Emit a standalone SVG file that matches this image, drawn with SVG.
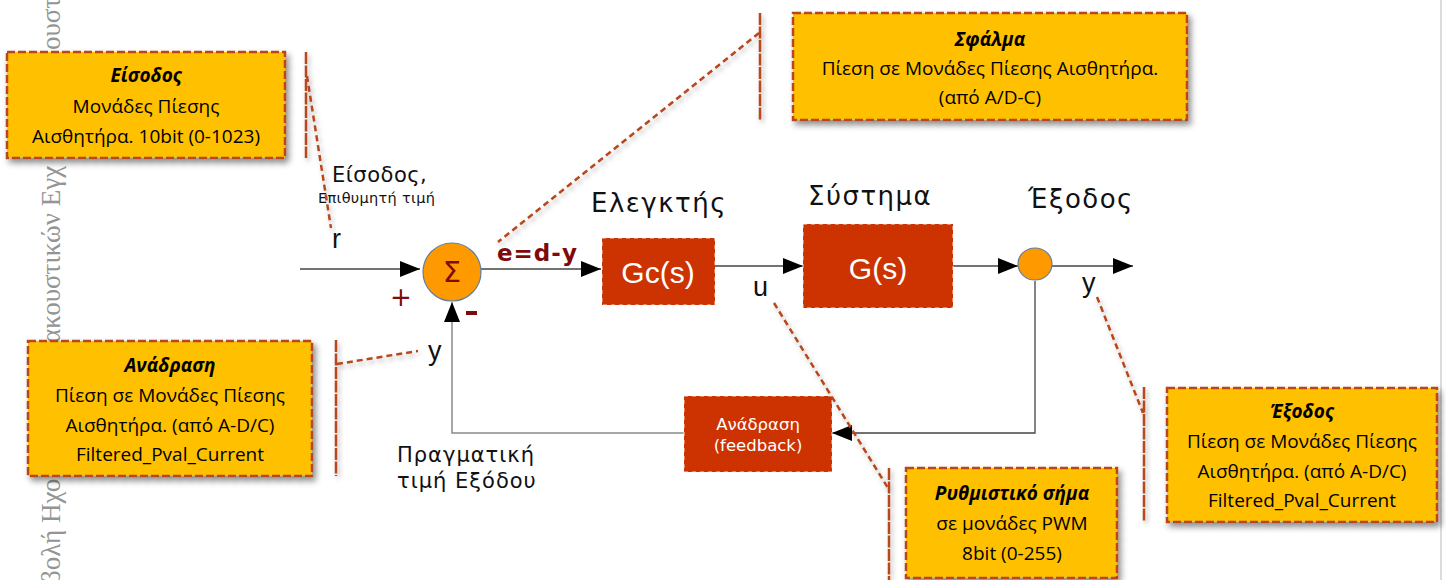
<svg xmlns="http://www.w3.org/2000/svg" width="1446" height="580" viewBox="0 0 1446 580">
  <defs>
    <filter id="shadow" x="-10%" y="-10%" width="130%" height="140%">
      <feDropShadow dx="3" dy="4" stdDeviation="3" flood-color="#000" flood-opacity="0.45"/>
    </filter>
    <filter id="lineShadow" x="-20%" y="-20%" width="140%" height="140%">
      <feDropShadow dx="2" dy="3" stdDeviation="2.5" flood-color="#000" flood-opacity="0.3"/>
    </filter>
    <marker id="arrow" viewBox="0 0 20 16" refX="20" refY="8" markerWidth="20" markerHeight="16" markerUnits="userSpaceOnUse" orient="auto">
      <path d="M0,0 L20,8 L0,16 Z" fill="#000"/>
    </marker>
    <style>
      .wm { font-family: "Liberation Serif", serif; font-size: 27px; fill: #949494; }
      .note rect { fill: #ffc000; stroke: #b8461b; stroke-width: 2.5; stroke-dasharray: 8 3; }
      .note text { font-family: "Open Sans", "Noto Sans", sans-serif; font-size: 19px; fill: #000; text-anchor: middle; }
      .note .title { font-weight: bold; font-style: italic; }
      .bracket { stroke: #b8461b; stroke-width: 2.5; fill: none; stroke-dasharray: 12 1.5; }
      .lead { stroke: #b8461b; stroke-width: 2.5; fill: none; stroke-dasharray: 6 4; }
      .wire { stroke: #444; stroke-width: 1.3; fill: none; }
      .wire-fb { stroke: #8a8a8a; stroke-width: 1.5; fill: none; }
      .block { fill: #cc3300; stroke: #fff; stroke-width: 0.8; stroke-dasharray: 4 4; }
      .block-text { font-family: "Liberation Sans", sans-serif; font-size: 30px; fill: #fff; text-anchor: middle; }
      .head { font-family: "DejaVu Sans", sans-serif; font-size: 26px; fill: #111; letter-spacing: 1.5px; }
      .sig { font-family: "Liberation Sans", sans-serif; font-size: 27px; fill: #111; }
      .lbl { font-family: "DejaVu Sans", sans-serif; font-size: 21px; fill: #111; letter-spacing: 1px; }
      .lbl-in { font-family: "DejaVu Sans", sans-serif; font-size: 21px; fill: #111; letter-spacing: 0.5px; }
      .lbl-sub { font-family: "DejaVu Sans", sans-serif; font-size: 14.5px; fill: #111; letter-spacing: 0.3px; }
      .red { fill: #7f0a0a; }
    </style>
  </defs>

  <!-- faint vertical watermark along the left edge -->
  <g id="watermark">
    <text class="wm" transform="translate(60,584) rotate(-90)">βολή Ηχο</text>
    <text class="wm" transform="translate(60,343) rotate(-90)">ακουστικών Εγχ</text>
    <text class="wm" transform="translate(60,50) rotate(-90)">ουστικ</text>
  </g>

  <!-- page edge -->
  <line x1="1441" y1="0" x2="1441" y2="580" stroke="#d0d0d0" stroke-width="1.5"/>

  <!-- signal connectors -->
  <g id="connectors">
    <line class="wire" x1="300" y1="269" x2="420" y2="269" marker-end="url(#arrow)"/>
    <line class="wire" x1="481" y1="269" x2="601" y2="269" marker-end="url(#arrow)"/>
    <line class="wire" x1="715" y1="266" x2="803" y2="266" marker-end="url(#arrow)"/>
    <line class="wire" x1="953" y1="266" x2="1018" y2="266" marker-end="url(#arrow)"/>
    <line class="wire" x1="1052" y1="266" x2="1133" y2="266" marker-end="url(#arrow)"/>
    <polyline class="wire" points="1035,281 1035,433 832,433" marker-end="url(#arrow)"/>
    <polyline class="wire-fb" points="684,433 452,433 452,302" marker-end="url(#arrow)"/>
  </g>

  <!-- summing junction -->
  <g id="sum">
    <circle cx="452" cy="272" r="29" fill="#ff9900" stroke="#5f7fa0" stroke-width="1.2"/>
    <text x="452" y="282" text-anchor="middle" font-family="DejaVu Sans, sans-serif" font-size="29" class="red">Σ</text>
    <text x="401" y="306" text-anchor="middle" font-family="DejaVu Sans, sans-serif" font-size="26" class="red">+</text>
    <rect x="466" y="311" width="11" height="4" class="red"/>
  </g>

  <!-- controller -->
  <g id="controller">
    <rect class="block" x="602" y="238" width="113" height="67"/>
    <text class="block-text" x="658" y="283">Gc(s)</text>
    <text class="head" x="591" y="212">Ελεγκτής</text>
  </g>

  <!-- plant -->
  <g id="plant">
    <rect class="block" x="803" y="224" width="150" height="84"/>
    <text class="block-text" x="878" y="279">G(s)</text>
    <text class="head" x="808" y="205">Σύστημα</text>
  </g>

  <!-- output pick-off -->
  <g id="output">
    <ellipse cx="1035" cy="264" rx="17" ry="16" fill="#ff9900" stroke="#5f7fa0" stroke-width="1.2"/>
    <text class="head" x="1028" y="208">Έξοδος</text>
  </g>

  <!-- feedback block -->
  <g id="feedback">
    <rect class="block" x="684" y="396" width="148" height="76"/>
    <text x="758" y="430" text-anchor="middle" font-family="DejaVu Sans, sans-serif" font-size="16.5" fill="#fff">Ανάδραση</text>
    <text x="758" y="451" text-anchor="middle" font-family="DejaVu Sans, sans-serif" font-size="16.5" fill="#fff">(feedback)</text>
  </g>

  <!-- signal labels -->
  <g id="labels">
    <text class="lbl-in" x="332" y="182">Είσοδος,</text>
    <text class="lbl-sub" x="318" y="203">Επιθυμητή τιμή</text>
    <text class="sig" x="332" y="248">r</text>
    <text x="497" y="261" font-family="DejaVu Sans, sans-serif" font-weight="bold" font-size="23" letter-spacing="1" class="red">e=d-y</text>
    <text class="sig" x="753" y="296">u</text>
    <text class="sig" x="1082" y="292">y</text>
    <text class="sig" x="428" y="360">y</text>
    <text class="lbl" x="397" y="462">Πραγματική</text>
    <text class="lbl" x="397" y="488">τιμή Εξόδου</text>
  </g>

  <!-- note: input -->
  <g id="note-input" class="note">
    <rect x="7" y="52" width="278" height="106" filter="url(#shadow)"/>
    <text class="title" x="146" y="82">Είσοδος</text>
    <text x="146" y="113">Μονάδες Πίεσης</text>
    <text x="146" y="143">Αισθητήρα. 10bit (0-1023)</text>
    <g filter="url(#lineShadow)">
      <line class="bracket" x1="306" y1="52" x2="306" y2="158"/>
      <line class="lead" x1="307" y1="76" x2="331" y2="228"/>
    </g>
  </g>

  <!-- note: error -->
  <g id="note-error" class="note">
    <rect x="793" y="13" width="394" height="107" filter="url(#shadow)"/>
    <text class="title" x="990" y="46">Σφάλμα</text>
    <text x="990" y="75">Πίεση σε Μονάδες Πίεσης Αισθητήρα.</text>
    <text x="990" y="104">(από A/D-C)</text>
    <g filter="url(#lineShadow)">
      <line class="bracket" x1="760" y1="13" x2="760" y2="120"/>
      <line class="lead" x1="759" y1="33" x2="498" y2="242"/>
    </g>
  </g>

  <!-- note: feedback -->
  <g id="note-feedback" class="note">
    <rect x="28" y="341" width="284" height="135" filter="url(#shadow)"/>
    <text class="title" x="170" y="372">Ανάδραση</text>
    <text x="170" y="402">Πίεση σε Μονάδες Πίεσης</text>
    <text x="170" y="432">Αισθητήρα. (από A-D/C)</text>
    <text x="170" y="461">Filtered_Pval_Current</text>
    <g filter="url(#lineShadow)">
      <line class="bracket" x1="336" y1="340" x2="336" y2="476"/>
      <line class="lead" x1="337" y1="364" x2="418" y2="351"/>
    </g>
  </g>

  <!-- note: control signal -->
  <g id="note-control" class="note">
    <rect x="906" y="468" width="211" height="110" filter="url(#shadow)"/>
    <text class="title" x="1012" y="500">Ρυθμιστικό σήμα</text>
    <text x="1012" y="530">σε μονάδες PWM</text>
    <text x="1012" y="560">8bit (0-255)</text>
    <g filter="url(#lineShadow)">
      <line class="bracket" x1="889" y1="468" x2="889" y2="582"/>
      <line class="lead" x1="774" y1="303" x2="888" y2="488"/>
    </g>
  </g>

  <!-- note: output -->
  <g id="note-output" class="note">
    <rect x="1167" y="388" width="270" height="134" filter="url(#shadow)"/>
    <text class="title" x="1302" y="418">Έξοδος</text>
    <text x="1302" y="448">Πίεση σε Μονάδες Πίεσης</text>
    <text x="1302" y="478">Αισθητήρα. (από A-D/C)</text>
    <text x="1302" y="507">Filtered_Pval_Current</text>
    <g filter="url(#lineShadow)">
      <line class="bracket" x1="1144" y1="387" x2="1144" y2="522"/>
      <line class="lead" x1="1097" y1="297" x2="1143" y2="413"/>
    </g>
  </g>
</svg>
